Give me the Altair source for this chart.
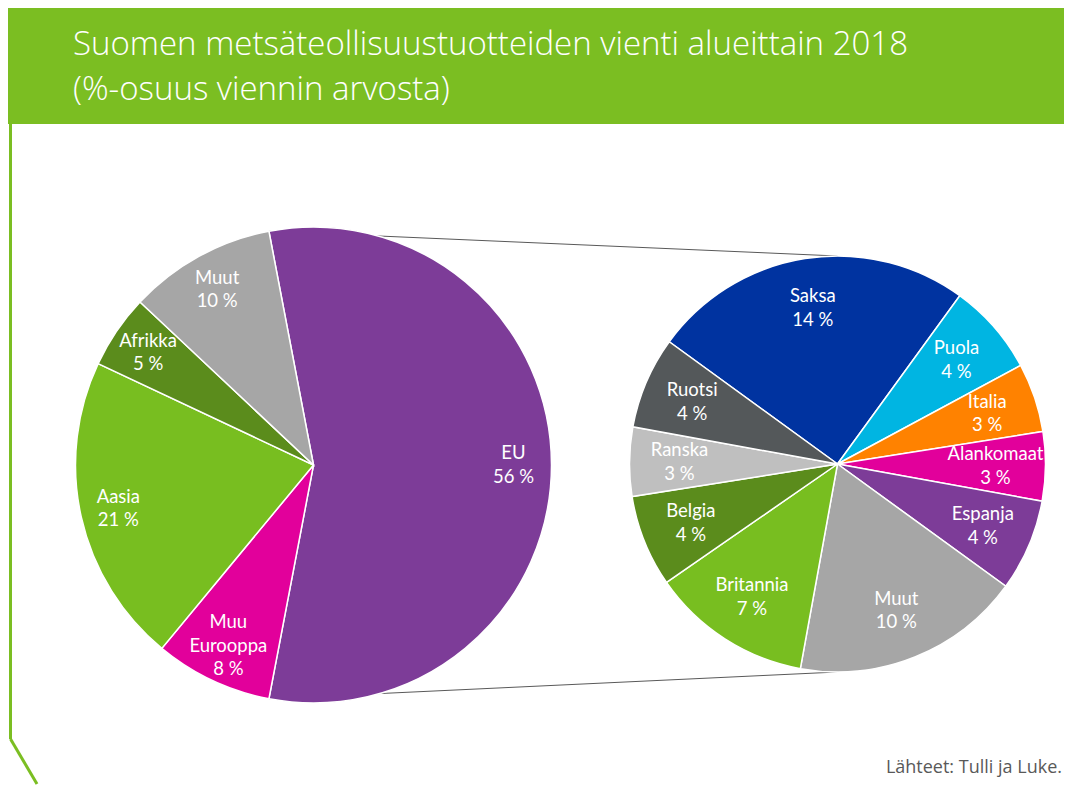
import math
import altair as alt
import pandas as pd

# ---- data ----
title_line1 = "Suomen metsäteollisuustuotteiden vienti alueittain 2018"
title_line2 = "(%-osuus viennin arvosta)"
source_text = "Lähteet: Tulli ja Luke."

left_names = ["EU", "Muu\nEurooppa", "Aasia", "Afrikka", "Muut"]
left_values = [56, 8, 21, 5, 10]
left_colors = ["#7D3C98", "#E2009B", "#78BE20", "#5B8C1C", "#A6A6A6"]

right_names = ["Saksa", "Puola", "Italia", "Alankomaat", "Espanja",
               "Muut", "Britannia", "Belgia", "Ranska", "Ruotsi"]
right_values = [14, 4, 3, 3, 4, 10, 7, 4, 3, 4]
right_colors = ["#0033A0", "#00B5E2", "#FF8200", "#E2009B", "#7D3C98",
                "#A6A6A6", "#78BE20", "#5B8C1C", "#BFBFBF", "#54585A"]

# ---- layout ----
W, H = 1056, 776
GREEN = "#7BBE22"
LCX, LCY, LR = 305.5, 457, 238
RCX, RCY, RR = 829.5, 456, 208
eu_share = left_values[0] / sum(left_values)
LEFT_START = 90 - eu_share * 360 / 2  # EU centred on 3 o'clock
RIGHT_START = 306
LABEL_FONT = "Lato"
LABEL_SIZE = 18.5
LH = 23.5

one = pd.DataFrame({"k": [0]})


def pie(names, values, colors, cx, cy, r, label_r, start_deg):
    total = sum(values)
    df = pd.DataFrame({
        "name": names,
        "value": values,
        "color": colors,
        "idx": list(range(len(names))),
    })
    df["label"] = [f"{n}\n{v} %" for n, v in zip(names, values)]
    df["nlines"] = [lab.count("\n") + 1 for lab in df["label"]]
    start = math.radians(start_deg % 360)
    sc = alt.Scale(domain=[0, total], range=[start, start + 2 * math.pi])
    arc = alt.Chart(df).mark_arc(outerRadius=r, stroke="white", strokeWidth=1.5).encode(
        theta=alt.Theta("value:Q", stack=True, scale=sc),
        order=alt.Order("idx:Q"),
        x=alt.value(cx), y=alt.value(cy),
        color=alt.Color("color:N", scale=None),
    )
    tbase = alt.Chart(df).transform_stack(
        stack="value", groupby=[], as_=["v0", "v1"],
        sort=[alt.SortField("idx", order="ascending")],
    ).transform_calculate(mid="(datum.v0 + datum.v1) / 2")
    layers = [arc]
    for n in sorted(set(df["nlines"])):
        layers.append(
            tbase.transform_filter(f"datum.nlines == {n}").mark_text(
                radius=label_r, font=LABEL_FONT, fontSize=LABEL_SIZE,
                lineHeight=LH, lineBreak="\n", color="white",
                align="center", baseline="middle", dy=-(n - 1) * LH / 2,
            ).encode(
                theta=alt.Theta("mid:Q", scale=sc),
                x=alt.value(cx), y=alt.value(cy), text="label:N",
            )
        )
    return alt.layer(*layers)


header = alt.Chart(one).mark_rect(color=GREEN).encode(
    x=alt.value(0), x2=alt.value(W), y=alt.value(0), y2=alt.value(116))
t1 = alt.Chart(one).mark_text(font="Open Sans", fontSize=33, fontWeight=300,
                              color="white", align="left", baseline="alphabetic").encode(
    x=alt.value(65), y=alt.value(47), text=alt.value(title_line1))
t2 = alt.Chart(one).mark_text(font="Open Sans", fontSize=33, fontWeight=300,
                              color="white", align="left", baseline="alphabetic").encode(
    x=alt.value(65), y=alt.value(92), text=alt.value(title_line2))

vline = alt.Chart(one).mark_rule(color=GREEN, strokeWidth=3).encode(
    x=alt.value(2.5), y=alt.value(116), x2=alt.value(2.5), y2=alt.value(731))
dline = alt.Chart(one).mark_rule(color=GREEN, strokeWidth=3).encode(
    x=alt.value(2.5), y=alt.value(731), x2=alt.value(29), y2=alt.value(776))

a = math.radians(LEFT_START)
ex = LCX + LR * math.sin(a)
ey_top = LCY - LR * math.cos(a)
ey_bot = LCY + LR * math.cos(a)
conn1 = alt.Chart(one).mark_rule(color="#595959", strokeWidth=1).encode(
    x=alt.value(ex), y=alt.value(ey_top), x2=alt.value(RCX), y2=alt.value(RCY - RR))
conn2 = alt.Chart(one).mark_rule(color="#595959", strokeWidth=1).encode(
    x=alt.value(ex), y=alt.value(ey_bot), x2=alt.value(RCX), y2=alt.value(RCY + RR))

left_pie = pie(left_names, left_values, left_colors, LCX, LCY, LR, 200, LEFT_START)
right_pie = pie(right_names, right_values, right_colors, RCX, RCY, RR, 158, RIGHT_START)

src = alt.Chart(one).mark_text(font="Open Sans", fontSize=18, color="#595959",
                               align="right", baseline="alphabetic").encode(
    x=alt.value(1054), y=alt.value(765), text=alt.value(source_text))

chart = alt.layer(
    header, t1, t2, vline, dline, conn1, conn2, left_pie, right_pie, src
).resolve_scale(theta="independent").properties(
    width=W, height=H, padding=0
).configure_view(stroke=None)

chart.save("out.html", embed_options={"renderer": "svg", "actions": False})
